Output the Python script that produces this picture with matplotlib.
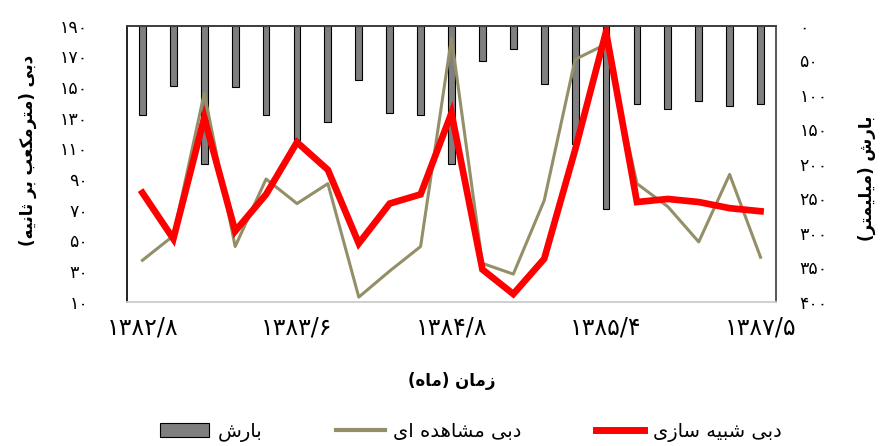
import matplotlib
matplotlib.use('Agg')
import matplotlib.pyplot as plt
from matplotlib.patches import Patch
from matplotlib.lines import Line2D

plt.rcParams['font.family'] = ['DejaVu Sans']

# --- data ---
months = list(range(21))
tick_pos = [0, 5, 10, 15, 20]
tick_labels = ['۱۳۸۲/۸', '۱۳۸۳/۶', '۱۳۸۴/۸', '۱۳۸۵/۴', '۱۳۸۷/۵']
rain = [130, 87, 201, 89, 130, 166, 140, 78, 127, 129, 200,
        51, 34, 84, 172, 266, 113, 121, 109, 117, 113]
observed = [37, 53, 146, 46, 90, 74, 87, 13, 30, 46, 182,
            35, 28, 76, 168, 178, 87, 72, 49, 93, 39]
simulated = [81, 51, 130, 56, 80, 114, 96, 48, 74, 80, 133,
             31, 15, 38, 109, 186, 75, 77, 75, 71, 69]
left_ticks = [10, 30, 50, 70, 90, 110, 130, 150, 170, 190]
right_ticks = [0, 50, 100, 150, 200, 250, 300, 350, 400]

# matplotlib has no arabic shaping, so pick the presentation forms by hand
# (isolated, final, initial, medial); None = letter never joins forward
FORMS = {
    'ا': ('\uFE8D', '\uFE8E', None, None),
    'د': ('\uFEA9', '\uFEAA', None, None),
    'ر': ('\uFEAD', '\uFEAE', None, None),
    'ز': ('\uFEAF', '\uFEB0', None, None),
    'ب': ('\uFE8F', '\uFE90', '\uFE91', '\uFE92'),
    'ت': ('\uFE95', '\uFE96', '\uFE97', '\uFE98'),
    'ث': ('\uFE99', '\uFE9A', '\uFE9B', '\uFE9C'),
    'س': ('\uFEB1', '\uFEB2', '\uFEB3', '\uFEB4'),
    'ش': ('\uFEB5', '\uFEB6', '\uFEB7', '\uFEB8'),
    'ع': ('\uFEC9', '\uFECA', '\uFECB', '\uFECC'),
    'ک': ('\uFB8E', '\uFB8F', '\uFB90', '\uFB91'),
    'ل': ('\uFEDD', '\uFEDE', '\uFEDF', '\uFEE0'),
    'م': ('\uFEE1', '\uFEE2', '\uFEE3', '\uFEE4'),
    'ن': ('\uFEE5', '\uFEE6', '\uFEE7', '\uFEE8'),
    'ه': ('\uFEE9', '\uFEEA', '\uFEEB', '\uFEEC'),
    'ی': ('\uFBFC', '\uFBFD', '\uFBFE', '\uFBFF'),
}


def fa(text):
    out = []
    for i, ch in enumerate(text):
        if ch not in FORMS:
            out.append(ch)
            continue
        prev = text[i - 1] if i > 0 else ''
        nxt = text[i + 1] if i + 1 < len(text) else ''
        jp = prev in FORMS and FORMS[prev][2] is not None
        jn = FORMS[ch][2] is not None and nxt in FORMS
        iso, fin, ini, med = FORMS[ch]
        if jp and jn:
            out.append(med)
        elif jp:
            out.append(fin)
        elif jn:
            out.append(ini)
        else:
            out.append(iso)
    vis = ''.join(reversed(out))
    return vis.translate(str.maketrans('()', ')('))


def fa_num(n):
    return str(n).translate(str.maketrans('0123456789', '۰۱۲۳۴۵۶۷۸۹'))


fig = plt.figure(figsize=(8.82, 4.46), dpi=100)
ax = fig.add_axes([127 / 882, 1 - 301.7 / 446, 649 / 882, 276 / 446])
ax2 = ax.twinx()

# rainfall bars hang from the top on the inverted right axis
ax2.bar(months, rain, width=0.22, color='#7F7F7F', edgecolor='black', linewidth=0.8)
ax2.set_ylim(400, 0)
ax2.set_yticks(right_ticks)
ax2.set_yticklabels([fa_num(v) for v in right_ticks], fontsize=12.5)

ax.plot(months, observed, color='#948F68', linewidth=2.2)
ax.plot(months, simulated, color='#FF0000', linewidth=4.8, solid_joinstyle='miter')
ax.set_ylim(10, 190)
ax.set_yticks(left_ticks)
ax.set_yticklabels([fa_num(v) for v in left_ticks], fontsize=12.5)
ax.set_xlim(-0.5, 20.5)
ax.set_xticks(tick_pos)
ax.set_xticklabels(tick_labels, fontsize=17)

ax.set_zorder(ax2.get_zorder() + 1)
ax.patch.set_visible(False)

ax.tick_params(axis='y', length=0, pad=28)
ax.tick_params(axis='x', length=0, pad=10)
ax2.tick_params(axis='y', length=0, pad=17)

for a in (ax, ax2):
    a.spines['left'].set_color('#262626')
    a.spines['top'].set_color('#404040')
    a.spines['right'].set_color('#595959')
    a.spines['bottom'].set_color('#D0D0D0')
    for s in a.spines.values():
        s.set_linewidth(1.3)

fig.text(28 / 882, 1 - 150 / 446, fa('دبی (مترمکعب بر ثانیه)'), rotation=90,
         ha='center', va='center', fontsize=12, fontweight='bold')
fig.text(867 / 882, 1 - 178 / 446, fa('بارش (میلیمتر)'), rotation=90,
         ha='center', va='center', fontsize=12, fontweight='bold')
fig.text(452 / 882, 1 - 381 / 446, fa('زمان (ماه)'), ha='center', va='center',
         fontsize=12, fontweight='bold')

handles = [
    Patch(facecolor='#7F7F7F', edgecolor='black', linewidth=0.8),
    Line2D([], [], color='#948F68', linewidth=3),
    Line2D([], [], color='#FF0000', linewidth=5),
]
labels = [fa('بارش'), fa('دبی مشاهده ای'), fa('دبی شبیه سازی')]
fig.legend(handles, labels, loc='center', bbox_to_anchor=(471 / 882, 1 - 432 / 446),
           ncol=3, frameon=False, fontsize=14, handlelength=2.5, handleheight=0.7,
           handletextpad=0.45, columnspacing=3.8)

fig.savefig('out.png', dpi=100)
